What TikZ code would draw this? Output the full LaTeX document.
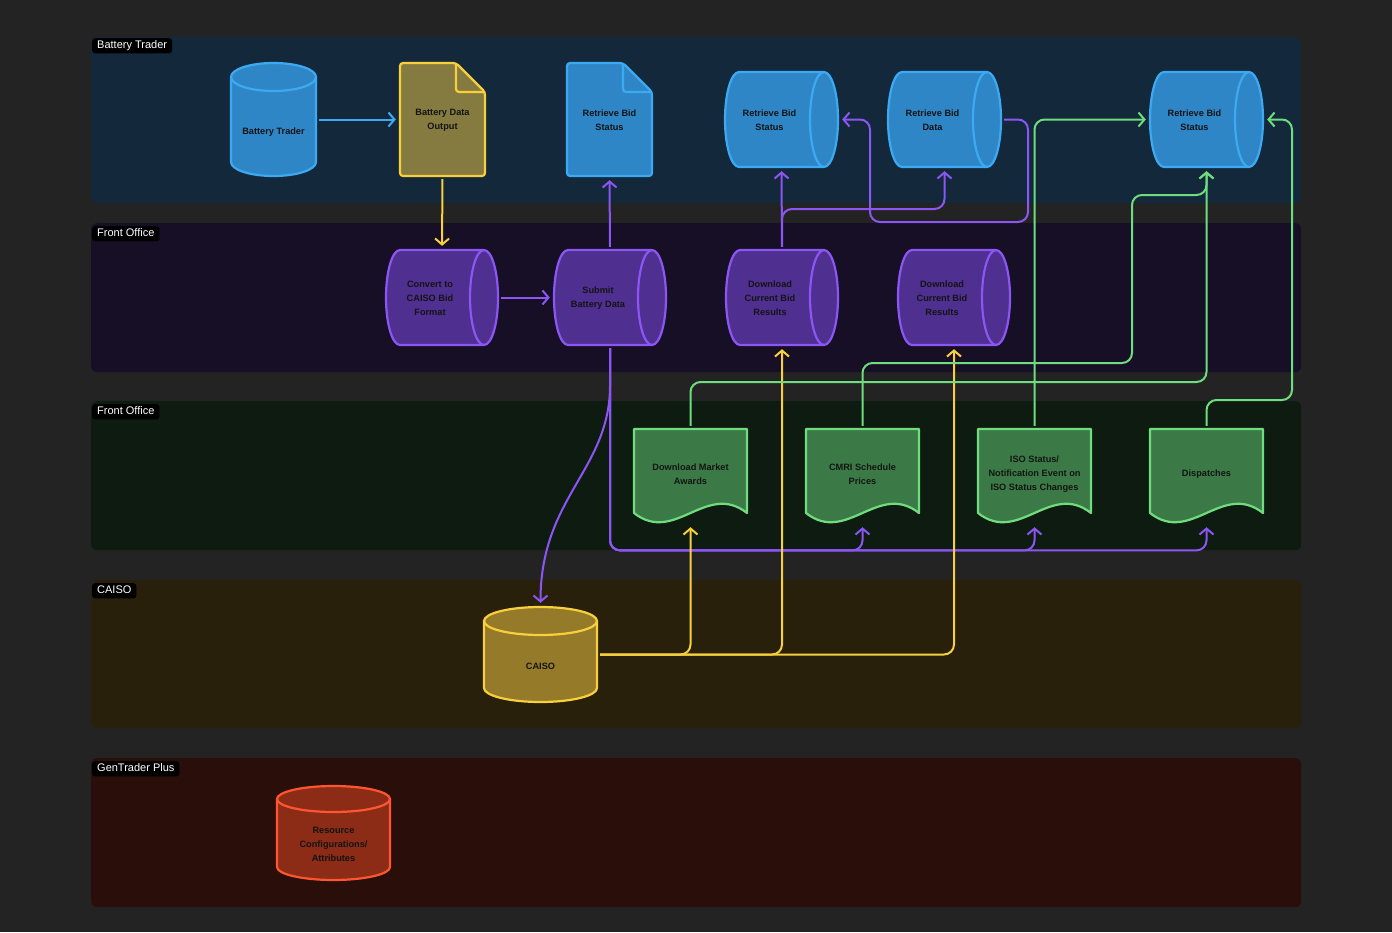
\documentclass[tikz,border=0pt]{standalone}
\usepackage{fontspec}
\setmainfont{Liberation Sans}
\usetikzlibrary{arrows.meta,calc}

\definecolor{bg}{HTML}{232323}
\definecolor{laneA}{HTML}{13283B}
\definecolor{laneB}{HTML}{160F25}
\definecolor{laneC}{HTML}{0E1B11}
\definecolor{laneD}{HTML}{29200C}
\definecolor{laneE}{HTML}{290E09}
\definecolor{bfill}{HTML}{2F86C6}
\definecolor{bline}{HTML}{3CAAF2}
\definecolor{yfill}{HTML}{857A3F}
\definecolor{yline}{HTML}{F7D03C}
\definecolor{cfill}{HTML}{957A2A}
\definecolor{pfill}{HTML}{4F2F90}
\definecolor{pline}{HTML}{8B56F3}
\definecolor{gfill}{HTML}{3B7A46}
\definecolor{gline}{HTML}{6FDD7E}
\definecolor{rfill}{HTML}{8C2B16}
\definecolor{rline}{HTML}{FF5631}
\definecolor{nodetext}{HTML}{141414}

\tikzset{
  lane/.style={rectangle, rounded corners=6pt, draw=none, inner sep=0pt, anchor=north west},
  lanelbl/.style={fill=black, text=white, rounded corners=3pt, font=\fontsize{11}{12}\selectfont,
    inner xsep=5pt, inner ysep=2.5pt, text height=8pt, text depth=2.2pt, anchor=north west},
  nbox/.style={rectangle, draw=none, fill=none, inner sep=0pt},
  lbl/.style={font=\fontsize{9.2}{14}\selectfont\bfseries, text=nodetext, align=center, inner sep=0pt},
  bluenode/.style={fill=bfill, draw=bline, line width=2.2pt, line join=round},
  yellownode/.style={fill=yfill, draw=yline, line width=2.2pt, line join=round},
  caisonode/.style={fill=cfill, draw=yline, line width=2.2pt, line join=round},
  purplenode/.style={fill=pfill, draw=pline, line width=2.2pt, line join=round},
  gnode/.style={fill=gfill, draw=gline, line width=2.2pt, line join=round},
  rednode/.style={fill=rfill, draw=rline, line width=2.2pt, line join=round},
  conn/.style={line width=2pt, rounded corners=10pt, -{Straight Barb[length=6pt,width=14pt]},
    shorten <=3pt, shorten >=4pt},
  cb/.style={draw=bline},
  cy/.style={draw=yline},
  cp/.style={draw=pline},
  cg/.style={draw=gline},
}

% vertical cylinder: name, x1, y1, x2, y2, ry, style, text
\newcommand\VCyl[8]{%
  \filldraw[#7] (#2,{-(#3+#6)}) -- (#2,{-(#5-#6)})
    arc[start angle=180,end angle=360,x radius={(#4-#2)/2*1pt},y radius=#6pt]
    -- (#4,{-(#3+#6)})
    arc[start angle=0,end angle=180,x radius={(#4-#2)/2*1pt},y radius=#6pt] -- cycle;
  \draw[#7,fill=none] (#2,{-(#3+#6)})
    arc[start angle=180,end angle=360,x radius={(#4-#2)/2*1pt},y radius=#6pt];
  \node[nbox,minimum width={(#4-#2)*1pt},minimum height={(#5-#3)*1pt}] (#1) at ({(#2+#4)/2},{-(#3+#5)/2}) {};
  \node[lbl] (#1-t) at ({(#2+#4)/2},{-(#3+#5)/2-0.8*#6-1}) {#8};
}
% horizontal cylinder: name, x1, y1, x2, y2, style, text
\newcommand\HCyl[7]{%
  \filldraw[#6] ({#4-14},-#3) -- ({#2+14},-#3)
    arc[start angle=90,end angle=270,x radius=14pt,y radius={(#5-#3)/2*1pt}]
    -- ({#4-14},-#5)
    arc[start angle=-90,end angle=90,x radius=14pt,y radius={(#5-#3)/2*1pt}] -- cycle;
  \draw[#6,fill=none] ({#4-14},-#3)
    arc[start angle=90,end angle=270,x radius=14pt,y radius={(#5-#3)/2*1pt}];
  \node[nbox,minimum width={(#4-#2)*1pt},minimum height={(#5-#3)*1pt}] (#1) at ({(#2+#4)/2},{-(#3+#5)/2}) {};
  \node[lbl] (#1-t) at ({(#2+#4)/2-12},{-(#3+#5)/2-1}) {#7};
}
% document with folded corner: name, x1, y1, x2, y2, style, text
\newcommand\FDoc[7]{%
  \filldraw[#6,rounded corners=3pt] (#2,-#3) -- ({#4-29},-#3) -- (#4,{-(#3+29)}) -- (#4,-#5) -- (#2,-#5) -- cycle;
  \draw[#6,fill=none,rounded corners=3pt] ({#4-29},-#3) -- ({#4-29},{-(#3+29)}) -- (#4,{-(#3+29)});
  \node[nbox,minimum width={(#4-#2)*1pt},minimum height={(#5-#3)*1pt}] (#1) at ({(#2+#4)/2},{-(#3+#5)/2}) {};
  \node[lbl] (#1-t) at ({(#2+#4)/2},{-(#3+#5)/2-1}) {#7};
}
% document with wavy bottom: name, x1, x2, text
\newcommand\WDoc[4]{%
  \filldraw[gnode] (#2,-513) -- (#2,-429) -- (#3,-429) -- (#3,-513)
    .. controls ({#3-0.36*(#3-#2)},-481) and ({#2+0.36*(#3-#2)},-545) .. (#2,-513) -- cycle;
  \node[nbox,minimum width={(#3-#2)*1pt},minimum height=94pt] (#1) at ({(#2+#3)/2},-476) {};
  \node[lbl] (#1-t) at ({(#2+#3)/2},-474) {#4};
}

\begin{document}
\begin{tikzpicture}[x=1pt,y=1pt]
\useasboundingbox (0,0) rectangle (1392,-932);
\fill[bg] (0,0) rectangle (1392,-932);

% lanes
\node[lane, fill=laneA, minimum width=1210pt, minimum height=166pt] (lane1) at (91,-37) {};
\node[lane, fill=laneB, minimum width=1210pt, minimum height=149pt] (lane2) at (91,-223) {};
\node[lane, fill=laneC, minimum width=1210pt, minimum height=149pt] (lane3) at (91,-401) {};
\node[lane, fill=laneD, minimum width=1210pt, minimum height=148pt] (lane4) at (91,-580) {};
\node[lane, fill=laneE, minimum width=1210pt, minimum height=149pt] (lane5) at (91,-758) {};

\node[lanelbl] (lane1-l) at (92,-38) {Battery Trader};
\node[lanelbl] (lane2-l) at (92,-226) {Front Office};
\node[lanelbl] (lane3-l) at (92,-404) {Front Office};
\node[lanelbl] (lane4-l) at (92,-583) {CAISO};
\node[lanelbl] (lane5-l) at (92,-761) {GenTrader Plus};

% Battery Trader lane
\VCyl{bt}{231}{63}{316}{176}{14}{bluenode}{Battery Trader}
\FDoc{bdo}{400}{63}{485}{176}{yellownode}{Battery Data\\Output}
\FDoc{rbs1}{567}{63}{652}{176}{bluenode}{Retrieve Bid\\Status}
\HCyl{rbs2}{725}{72}{838}{167}{bluenode}{Retrieve Bid\\Status}
\HCyl{rbd}{888}{72}{1001}{167}{bluenode}{Retrieve Bid\\Data}
\HCyl{rbs3}{1150}{72}{1263}{167}{bluenode}{Retrieve Bid\\Status}

% Front Office lane
\HCyl{conv}{386}{250}{498}{345}{purplenode}{Convert to\\CAISO Bid\\Format}
\HCyl{submit}{554}{250}{666}{345}{purplenode}{Submit\\Battery Data}
\HCyl{dcbr1}{726}{250}{838}{345}{purplenode}{Download\\Current Bid\\Results}
\HCyl{dcbr2}{898}{250}{1010}{345}{purplenode}{Download\\Current Bid\\Results}

% Front Office lane 2
\WDoc{dma}{634}{747}{Download Market\\Awards}
\WDoc{cmri}{806}{919}{CMRI Schedule\\Prices}
\WDoc{iso}{978}{1091}{ISO Status/\\Notification Event on\\ISO Status Changes}
\WDoc{disp}{1150}{1263}{Dispatches}

% CAISO lane
\VCyl{caiso}{484}{607}{597}{702}{14}{caisonode}{CAISO}

% GenTrader Plus lane
\VCyl{res}{277}{786}{390}{880}{13}{rednode}{Resource\\Configurations/\\Attributes}

% connectors
\draw[conn,cb] (bt.east) -- (bdo.west);
\draw[conn,cy] (bdo.south) -- (conv.north);
\draw[conn,cp] (conv.east) -- (submit.west);
\draw[conn,cp] (submit.north) -- (rbs1.south);
\draw[conn,cp] (submit.south) -- ++(0,-30) .. controls +(0,-95) and +(0,110) .. (caiso.north);
\draw[conn,cp] (submit.south) -- (submit.south |- lane3.south) -- (cmri.south |- lane3.south) -- (cmri.south);
\draw[conn,cp] (submit.south) -- (submit.south |- lane3.south) -- (iso.south |- lane3.south) -- (iso.south);
\draw[conn,cp] (submit.south) -- (submit.south |- lane3.south) -- (disp.south |- lane3.south) -- (disp.south);

\draw[conn,cp] (dcbr1.north) -- (rbs2.south);
\draw[conn,cp] (dcbr1.north) -- (dcbr1.north |- 0,-209) -- (rbd.south |- 0,-209) -- (rbd.south);
\draw[conn,cp] (rbd.east) -- (1028,-119.5) -- (1028,-222) -- (870,-222) -- (870,-119.5) -- (rbs2.east);

\draw[conn,cy] (caiso.east) -- (dma.south |- caiso.east) -- (dma.south);
\draw[conn,cy] (caiso.east) -- (dcbr1.south |- caiso.east) -- (dcbr1.south);
\draw[conn,cy] (caiso.east) -- (dcbr2.south |- caiso.east) -- (dcbr2.south);

\draw[conn,cg] (dma.north) -- (dma.north |- 0,-382) -- (rbs3.south |- 0,-382) -- (rbs3.south);
\draw[conn,cg] (cmri.north) -- (cmri.north |- 0,-363) -- (1132,-363) -- (1132,-195) -- (rbs3.south |- 0,-195) -- (rbs3.south);
\draw[conn,cg] (iso.north) -- (iso.north |- rbs3.west) -- (rbs3.west);
\draw[conn,cg] (disp.north) -- (disp.north |- 0,-400) -- (1292,-400) -- (1292,-119.5) -- (rbs3.east);
\end{tikzpicture}
\end{document}
